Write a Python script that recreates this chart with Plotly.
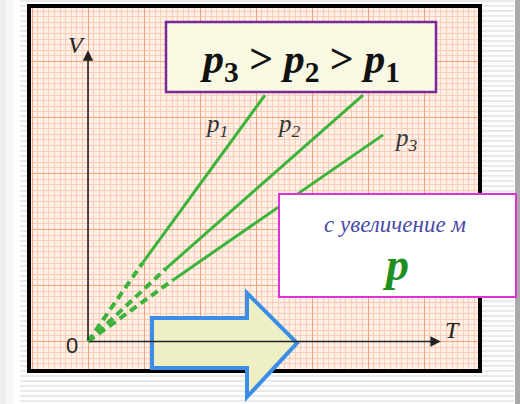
import plotly.graph_objects as go

# ---- data (T, V in grid units; origin at 0,0) ----
p1_T = [0.0, 0.98, 3.16]
p1_V = [0.0, 1.41, 4.40]
p2_T = [0.0, 1.40, 4.91]
p2_V = [0.0, 1.31, 4.40]
p3_T = [0.0, 1.52, 5.27]
p3_V = [0.0, 1.10, 3.69]
series_names = ["p<sub>1</sub>", "p<sub>2</sub>", "p<sub>3</sub>"]
series_T = [p1_T, p2_T, p3_T]
series_V = [p1_V, p2_V, p3_V]

W, H = 520, 404
SERIF = "Liberation Serif, Times New Roman, DejaVu Serif, serif"
def px(x):
    return x / W
def py(y):
    return 1 - y / H

GREEN = "#3cb43c"
fig = go.Figure()

for T, V in zip(series_T, series_V):
    fig.add_trace(go.Scatter(x=T[:2], y=V[:2], mode="lines",
                             line=dict(color=GREEN, width=4, dash="8px,5px"),
                             hoverinfo="skip"))
    fig.add_trace(go.Scatter(x=T[1:], y=V[1:], mode="lines",
                             line=dict(color=GREEN, width=3), hoverinfo="skip"))

shapes = []
path = ""
y = 1
while y < H:
    path += f"M{px(20):.4f},{py(y):.4f} L{px(514):.4f},{py(y):.4f} "
    y += 5
shapes.append(dict(type="path", xref="paper", yref="paper", path=path,
                   line=dict(color="#d4d4d4", width=1), layer="below"))
shapes.append(dict(type="rect", xref="paper", yref="paper", x0=0, x1=px(6), y0=0, y1=1,
                   fillcolor="#eeeeee", line=dict(width=0), layer="below"))
shapes.append(dict(type="rect", xref="paper", yref="paper", x0=px(6), x1=px(13), y0=0, y1=1,
                   fillcolor="#f7f7f7", line=dict(width=0), layer="below"))
shapes.append(dict(type="rect", xref="paper", yref="paper", x0=px(515), x1=1, y0=0, y1=1,
                   fillcolor="#aaaaaa", line=dict(width=0), layer="below"))
shapes.append(dict(type="rect", xref="x domain", yref="y domain", x0=0, x1=1, y0=0, y1=1,
                   fillcolor="#fef0e7", line=dict(width=0), layer="below"))
shapes.append(dict(type="rect", xref="paper", yref="paper", x0=px(29), x1=px(480),
                   y0=py(371), y1=py(6), line=dict(color="#000000", width=4), layer="above"))
shapes.append(dict(type="rect", xref="paper", yref="paper", x0=px(166), x1=px(436),
                   y0=py(92), y1=py(22), fillcolor="#f9f8e2",
                   line=dict(color="#7a2a98", width=2.5), layer="above"))
shapes.append(dict(type="rect", xref="paper", yref="paper", x0=px(279), x1=px(516),
                   y0=py(297), y1=py(194), fillcolor="#ffffff",
                   line=dict(color="#e030d8", width=2), layer="above"))
pts = [(152, 318), (247, 318), (247, 293), (297, 343), (247, 397), (247, 368), (152, 368)]
apath = "M" + " L".join(f"{px(a):.4f},{py(b):.4f}" for a, b in pts) + " Z"
shapes.append(dict(type="path", xref="paper", yref="paper", path=apath,
                   fillcolor="#eef0c4", line=dict(color="#3a8ee8", width=4), layer="above"))

C = dict(xanchor="center", yanchor="middle", showarrow=False)
ann = []
ann.append(dict(x=0, y=5.2, ax=0, ay=0, xref="x", yref="y", axref="x", ayref="y",
                text="", showarrow=True, arrowhead=2, arrowsize=1.3, arrowwidth=1.6,
                arrowcolor="#222222"))
ann.append(dict(x=6.3, y=0, ax=0, ay=0, xref="x", yref="y", axref="x", ayref="y",
                text="", showarrow=True, arrowhead=2, arrowsize=1.3, arrowwidth=1.6,
                arrowcolor="#222222"))
ann.append(dict(x=-0.21, y=5.3, xref="x", yref="y", text="<i>V</i>",
                font=dict(family=SERIF, size=24, color="#222222"), **C))
ann.append(dict(x=6.50, y=0.2, xref="x", yref="y", text="<i>T</i>",
                font=dict(family=SERIF, size=24, color="#222222"), **C))
ann.append(dict(x=-0.28, y=-0.07, xref="x", yref="y", text="0",
                font=dict(family="Liberation Sans", size=22, color="#222222"), **C))
label_pos = [(2.30, 3.85), (3.59, 3.85), (5.68, 3.60)]
for name, (lx, ly) in zip(series_names, label_pos):
    ann.append(dict(x=lx, y=ly, xref="x", yref="y", text=f"<i>{name}</i>",
                    font=dict(family=SERIF, size=25, color="#333333"), **C))
ann.append(dict(x=px(300), y=py(62), xref="paper", yref="paper",
                text="<b><i>p</i><sub>3</sub> &gt; <i>p</i><sub>2</sub> &gt; <i>p</i><sub>1</sub></b>",
                font=dict(family=SERIF, size=42, color="#111111"), **C))
ann.append(dict(x=px(395), y=py(224), xref="paper", yref="paper",
                text="<i>с увеличение м</i>",
                font=dict(family=SERIF, size=23, color="#4b4ba8"), **C))
ann.append(dict(x=px(395), y=py(264), xref="paper", yref="paper",
                text="<b><i>p</i></b>",
                font=dict(family=SERIF, size=46, color="#1f8f1f"), **C))

axis_common = dict(showticklabels=False, ticks="", zeroline=False, showline=False,
                   showgrid=True, gridcolor="#f2a47e", gridwidth=1.3, dtick=1, tick0=0,
                   minor=dict(dtick=0.1, showgrid=True, gridcolor="#f9cdb8", gridwidth=1),
                   fixedrange=True)
fig.update_layout(
    width=W, height=H, margin=dict(l=0, r=0, t=0, b=0),
    paper_bgcolor="#ffffff", plot_bgcolor="rgba(0,0,0,0)", showlegend=False,
    xaxis=dict(domain=[29 / W, 480 / W], range=[(29 - 88) / 56, (480 - 88) / 56], **axis_common),
    yaxis=dict(domain=[1 - 371 / H, 1 - 6 / H], range=[(341.5 - 371) / 56, (341.5 - 6) / 56],
               **axis_common),
    shapes=shapes, annotations=ann,
)
fig.write_html("out.html", config={"displayModeBar": False},
               post_script="document.body.style.margin='0px';document.body.style.overflow='hidden';")
